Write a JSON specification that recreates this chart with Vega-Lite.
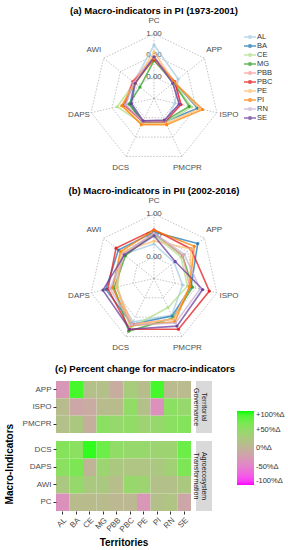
{
  "$schema": "https://vega.github.io/schema/vega-lite/v6.json",
  "padding": 5,
  "spacing": 11,
  "config": {
    "font": "Liberation Sans",
    "view": {"stroke": null},
    "title": {"fontSize": 9.5, "fontWeight": "bold", "color": "#000000", "offset": 2},
    "axis": {"labelFontSize": 8, "labelColor": "#4D4D4D", "tickColor": "#333333", "tickSize": 3, "domain": false, "grid": false, "titleFontSize": 10, "titleFontWeight": "bold", "titleColor": "#000000"}
  },
  "resolve": {"scale": {"color": "independent"}, "legend": {"color": "independent"}},
  "datasets": {
    "axes": [
      {"ind": "PC", "k": 0}, {"ind": "APP", "k": 1}, {"ind": "ISPO", "k": 2}, {"ind": "PMCPR", "k": 3},
      {"ind": "DCS", "k": 4}, {"ind": "DAPS", "k": 5}, {"ind": "AWI", "k": 6}
    ],
    "levels": [{"level": 0, "lab": "0.00"}, {"level": 0.5, "lab": "0.50"}, {"level": 1, "lab": "1.00"}],
    "rings": [
      {"ind": "PC", "level": 0}, {"ind": "APP", "level": 0}, {"ind": "ISPO", "level": 0}, {"ind": "PMCPR", "level": 0}, {"ind": "DCS", "level": 0}, {"ind": "DAPS", "level": 0}, {"ind": "AWI", "level": 0},
      {"ind": "PC", "level": 0.5}, {"ind": "APP", "level": 0.5}, {"ind": "ISPO", "level": 0.5}, {"ind": "PMCPR", "level": 0.5}, {"ind": "DCS", "level": 0.5}, {"ind": "DAPS", "level": 0.5}, {"ind": "AWI", "level": 0.5},
      {"ind": "PC", "level": 1}, {"ind": "APP", "level": 1}, {"ind": "ISPO", "level": 1}, {"ind": "PMCPR", "level": 1}, {"ind": "DCS", "level": 1}, {"ind": "DAPS", "level": 1}, {"ind": "AWI", "level": 1}
    ],
    "pi": [
      {"t": "AL", "ind": "PC", "v": 0.74}, {"t": "AL", "ind": "APP", "v": 0.22}, {"t": "AL", "ind": "ISPO", "v": 0.0}, {"t": "AL", "ind": "PMCPR", "v": 0.1}, {"t": "AL", "ind": "DCS", "v": 0.12}, {"t": "AL", "ind": "DAPS", "v": 0.18}, {"t": "AL", "ind": "AWI", "v": 0.1},
      {"t": "BA", "ind": "PC", "v": 0.45}, {"t": "BA", "ind": "APP", "v": 0.1}, {"t": "BA", "ind": "ISPO", "v": 0.54}, {"t": "BA", "ind": "PMCPR", "v": 0.1}, {"t": "BA", "ind": "DCS", "v": 0.12}, {"t": "BA", "ind": "DAPS", "v": 0.07}, {"t": "BA", "ind": "AWI", "v": 0.08},
      {"t": "CE", "ind": "PC", "v": 0.45}, {"t": "CE", "ind": "APP", "v": 0.08}, {"t": "CE", "ind": "ISPO", "v": 0.4}, {"t": "CE", "ind": "PMCPR", "v": 0.12}, {"t": "CE", "ind": "DCS", "v": 0.14}, {"t": "CE", "ind": "DAPS", "v": 0.38}, {"t": "CE", "ind": "AWI", "v": 0.08},
      {"t": "MG", "ind": "PC", "v": 0.38}, {"t": "MG", "ind": "APP", "v": 0.08}, {"t": "MG", "ind": "ISPO", "v": 0.34}, {"t": "MG", "ind": "PMCPR", "v": 0.08}, {"t": "MG", "ind": "DCS", "v": 0.1}, {"t": "MG", "ind": "DAPS", "v": 0.1}, {"t": "MG", "ind": "AWI", "v": -0.08},
      {"t": "PBB", "ind": "PC", "v": 0.47}, {"t": "PBB", "ind": "APP", "v": 0.12}, {"t": "PBB", "ind": "ISPO", "v": 0.15}, {"t": "PBB", "ind": "PMCPR", "v": 0.08}, {"t": "PBB", "ind": "DCS", "v": 0.1}, {"t": "PBB", "ind": "DAPS", "v": 0.22}, {"t": "PBB", "ind": "AWI", "v": 0.14},
      {"t": "PBC", "ind": "PC", "v": 0.4}, {"t": "PBC", "ind": "APP", "v": 0.12}, {"t": "PBC", "ind": "ISPO", "v": 0.14}, {"t": "PBC", "ind": "PMCPR", "v": 0.1}, {"t": "PBC", "ind": "DCS", "v": 0.1}, {"t": "PBC", "ind": "DAPS", "v": 0.2}, {"t": "PBC", "ind": "AWI", "v": 0.12},
      {"t": "PE", "ind": "PC", "v": 0.58}, {"t": "PE", "ind": "APP", "v": 0.1}, {"t": "PE", "ind": "ISPO", "v": 0.58}, {"t": "PE", "ind": "PMCPR", "v": 0.15}, {"t": "PE", "ind": "DCS", "v": 0.16}, {"t": "PE", "ind": "DAPS", "v": 0.28}, {"t": "PE", "ind": "AWI", "v": 0.08},
      {"t": "PI", "ind": "PC", "v": 0.42}, {"t": "PI", "ind": "APP", "v": 0.1}, {"t": "PI", "ind": "ISPO", "v": 0.66}, {"t": "PI", "ind": "PMCPR", "v": 0.18}, {"t": "PI", "ind": "DCS", "v": 0.18}, {"t": "PI", "ind": "DAPS", "v": 0.26}, {"t": "PI", "ind": "AWI", "v": 0.06},
      {"t": "RN", "ind": "PC", "v": 0.45}, {"t": "RN", "ind": "APP", "v": 0.06}, {"t": "RN", "ind": "ISPO", "v": 0.1}, {"t": "RN", "ind": "PMCPR", "v": 0.08}, {"t": "RN", "ind": "DCS", "v": 0.1}, {"t": "RN", "ind": "DAPS", "v": 0.18}, {"t": "RN", "ind": "AWI", "v": 0.1},
      {"t": "SE", "ind": "PC", "v": 0.46}, {"t": "SE", "ind": "APP", "v": 0.06}, {"t": "SE", "ind": "ISPO", "v": 0.1}, {"t": "SE", "ind": "PMCPR", "v": 0.06}, {"t": "SE", "ind": "DCS", "v": 0.08}, {"t": "SE", "ind": "DAPS", "v": 0.04}, {"t": "SE", "ind": "AWI", "v": 0.06}
    ],
    "pii": [
      {"t": "AL", "ind": "PC", "v": 0.3}, {"t": "AL", "ind": "APP", "v": 0.1}, {"t": "AL", "ind": "ISPO", "v": 0.18}, {"t": "AL", "ind": "PMCPR", "v": 0.45}, {"t": "AL", "ind": "DCS", "v": 0.62}, {"t": "AL", "ind": "DAPS", "v": 0.5}, {"t": "AL", "ind": "AWI", "v": 0.4},
      {"t": "BA", "ind": "PC", "v": 0.58}, {"t": "BA", "ind": "APP", "v": 0.8}, {"t": "BA", "ind": "ISPO", "v": 0.38}, {"t": "BA", "ind": "PMCPR", "v": 0.47}, {"t": "BA", "ind": "DCS", "v": 0.68}, {"t": "BA", "ind": "DAPS", "v": 0.65}, {"t": "BA", "ind": "AWI", "v": 0.56},
      {"t": "CE", "ind": "PC", "v": 0.5}, {"t": "CE", "ind": "APP", "v": 0.3}, {"t": "CE", "ind": "ISPO", "v": 0.3}, {"t": "CE", "ind": "PMCPR", "v": 0.25}, {"t": "CE", "ind": "DCS", "v": 0.78}, {"t": "CE", "ind": "DAPS", "v": 0.37}, {"t": "CE", "ind": "AWI", "v": 0.45},
      {"t": "MG", "ind": "PC", "v": 0.55}, {"t": "MG", "ind": "APP", "v": 0.35}, {"t": "MG", "ind": "ISPO", "v": 0.42}, {"t": "MG", "ind": "PMCPR", "v": 0.52}, {"t": "MG", "ind": "DCS", "v": 0.86}, {"t": "MG", "ind": "DAPS", "v": 0.45}, {"t": "MG", "ind": "AWI", "v": 0.35},
      {"t": "PBB", "ind": "PC", "v": 0.55}, {"t": "PBB", "ind": "APP", "v": 0.35}, {"t": "PBB", "ind": "ISPO", "v": 0.35}, {"t": "PBB", "ind": "PMCPR", "v": 0.55}, {"t": "PBB", "ind": "DCS", "v": 0.68}, {"t": "PBB", "ind": "DAPS", "v": 0.4}, {"t": "PBB", "ind": "AWI", "v": 0.42},
      {"t": "PBC", "ind": "PC", "v": 0.63}, {"t": "PBC", "ind": "APP", "v": 0.6}, {"t": "PBC", "ind": "ISPO", "v": 0.82}, {"t": "PBC", "ind": "PMCPR", "v": 0.81}, {"t": "PBC", "ind": "DCS", "v": 0.81}, {"t": "PBC", "ind": "DAPS", "v": 0.6}, {"t": "PBC", "ind": "AWI", "v": 0.63},
      {"t": "PE", "ind": "PC", "v": 0.37}, {"t": "PE", "ind": "APP", "v": 0.6}, {"t": "PE", "ind": "ISPO", "v": 0.35}, {"t": "PE", "ind": "PMCPR", "v": 0.55}, {"t": "PE", "ind": "DCS", "v": 0.7}, {"t": "PE", "ind": "DAPS", "v": 0.4}, {"t": "PE", "ind": "AWI", "v": 0.48},
      {"t": "PI", "ind": "PC", "v": 0.62}, {"t": "PI", "ind": "APP", "v": 0.7}, {"t": "PI", "ind": "ISPO", "v": 0.35}, {"t": "PI", "ind": "PMCPR", "v": 0.62}, {"t": "PI", "ind": "DCS", "v": 0.72}, {"t": "PI", "ind": "DAPS", "v": 0.49}, {"t": "PI", "ind": "AWI", "v": 0.5},
      {"t": "RN", "ind": "PC", "v": 0.55}, {"t": "RN", "ind": "APP", "v": 0.4}, {"t": "RN", "ind": "ISPO", "v": 0.6}, {"t": "RN", "ind": "PMCPR", "v": 0.65}, {"t": "RN", "ind": "DCS", "v": 0.7}, {"t": "RN", "ind": "DAPS", "v": 0.55}, {"t": "RN", "ind": "AWI", "v": 0.4},
      {"t": "SE", "ind": "PC", "v": 0.49}, {"t": "SE", "ind": "APP", "v": 0.13}, {"t": "SE", "ind": "ISPO", "v": 0.66}, {"t": "SE", "ind": "PMCPR", "v": 0.73}, {"t": "SE", "ind": "DCS", "v": 0.81}, {"t": "SE", "ind": "DAPS", "v": 0.72}, {"t": "SE", "ind": "AWI", "v": 0.38}
    ],
    "chg": [
      {"t": "AL", "ind": "APP", "p": -30}, {"t": "BA", "ind": "APP", "p": 90}, {"t": "CE", "ind": "APP", "p": 15}, {"t": "MG", "ind": "APP", "p": 15}, {"t": "PBB", "ind": "APP", "p": -8}, {"t": "PBC", "ind": "APP", "p": 30}, {"t": "PE", "ind": "APP", "p": 12}, {"t": "PI", "ind": "APP", "p": 90}, {"t": "RN", "ind": "APP", "p": 8}, {"t": "SE", "ind": "APP", "p": 8},
      {"t": "AL", "ind": "ISPO", "p": 10}, {"t": "BA", "ind": "ISPO", "p": -15}, {"t": "CE", "ind": "ISPO", "p": -10}, {"t": "MG", "ind": "ISPO", "p": 10}, {"t": "PBB", "ind": "ISPO", "p": 10}, {"t": "PBC", "ind": "ISPO", "p": 50}, {"t": "PE", "ind": "ISPO", "p": 15}, {"t": "PI", "ind": "ISPO", "p": -35}, {"t": "RN", "ind": "ISPO", "p": 55}, {"t": "SE", "ind": "ISPO", "p": 45},
      {"t": "AL", "ind": "PMCPR", "p": 15}, {"t": "BA", "ind": "PMCPR", "p": 25}, {"t": "CE", "ind": "PMCPR", "p": -5}, {"t": "MG", "ind": "PMCPR", "p": 55}, {"t": "PBB", "ind": "PMCPR", "p": 45}, {"t": "PBC", "ind": "PMCPR", "p": 50}, {"t": "PE", "ind": "PMCPR", "p": 40}, {"t": "PI", "ind": "PMCPR", "p": 45}, {"t": "RN", "ind": "PMCPR", "p": 55}, {"t": "SE", "ind": "PMCPR", "p": 60},
      {"t": "AL", "ind": "DCS", "p": 60}, {"t": "BA", "ind": "DCS", "p": 55}, {"t": "CE", "ind": "DCS", "p": 95}, {"t": "MG", "ind": "DCS", "p": 75}, {"t": "PBB", "ind": "DCS", "p": 50}, {"t": "PBC", "ind": "DCS", "p": 45}, {"t": "PE", "ind": "DCS", "p": 45}, {"t": "PI", "ind": "DCS", "p": 40}, {"t": "RN", "ind": "DCS", "p": 40}, {"t": "SE", "ind": "DCS", "p": 75},
      {"t": "AL", "ind": "DAPS", "p": 55}, {"t": "BA", "ind": "DAPS", "p": 65}, {"t": "CE", "ind": "DAPS", "p": 0}, {"t": "MG", "ind": "DAPS", "p": 40}, {"t": "PBB", "ind": "DAPS", "p": 25}, {"t": "PBC", "ind": "DAPS", "p": 20}, {"t": "PE", "ind": "DAPS", "p": 20}, {"t": "PI", "ind": "DAPS", "p": 25}, {"t": "RN", "ind": "DAPS", "p": 35}, {"t": "SE", "ind": "DAPS", "p": 65},
      {"t": "AL", "ind": "AWI", "p": 25}, {"t": "BA", "ind": "AWI", "p": 45}, {"t": "CE", "ind": "AWI", "p": 25}, {"t": "MG", "ind": "AWI", "p": 25}, {"t": "PBB", "ind": "AWI", "p": 12}, {"t": "PBC", "ind": "AWI", "p": 45}, {"t": "PE", "ind": "AWI", "p": 40}, {"t": "PI", "ind": "AWI", "p": 15}, {"t": "RN", "ind": "AWI", "p": 15}, {"t": "SE", "ind": "AWI", "p": 25},
      {"t": "AL", "ind": "PC", "p": -35}, {"t": "BA", "ind": "PC", "p": 10}, {"t": "CE", "ind": "PC", "p": 10}, {"t": "MG", "ind": "PC", "p": 10}, {"t": "PBB", "ind": "PC", "p": 5}, {"t": "PBC", "ind": "PC", "p": 5}, {"t": "PE", "ind": "PC", "p": -30}, {"t": "PI", "ind": "PC", "p": 15}, {"t": "RN", "ind": "PC", "p": 20}, {"t": "SE", "ind": "PC", "p": -15}
    ]
  },
  "vconcat": [
    {
      "width": 184, "height": 156,
      "title": {"text": "(a) Macro-indicators in PI (1973-2001)", "frame": "group", "anchor": "middle", "dx": 6},
      "layer": [
        {
          "data": {"name": "rings"},
          "transform": [
            {"lookup": "ind", "from": {"data": {"name": "axes"}, "key": "ind", "fields": ["k"]}},
            {"calculate": "datum.k*2*PI/7", "as": "a"},
            {"calculate": "(datum.level+0.5)*sin(datum.a)", "as": "x"},
            {"calculate": "(datum.level+0.5)*cos(datum.a)", "as": "y"}
          ],
          "mark": {"type": "line", "interpolate": "linear-closed", "stroke": "#AAAAAA", "strokeWidth": 0.7, "strokeDash": [1.5, 1.5]},
          "encoding": {
            "x": {"field": "x", "type": "quantitative", "scale": {"domain": [-2.28, 2.0], "nice": false, "zero": false}, "axis": null},
            "y": {"field": "y", "type": "quantitative", "scale": {"domain": [-1.76, 1.87], "nice": false, "zero": false}, "axis": null},
            "detail": {"field": "level", "type": "nominal"},
            "order": {"field": "k", "type": "quantitative"}
          }
        },
        {
          "data": {"name": "axes"},
          "transform": [
            {"calculate": "datum.k*2*PI/7", "as": "a"},
            {"calculate": "1.5*sin(datum.a)", "as": "x"},
            {"calculate": "1.5*cos(datum.a)", "as": "y"}
          ],
          "mark": {"type": "rule", "stroke": "#AAAAAA", "strokeWidth": 0.7, "strokeDash": [1.5, 1.5]},
          "encoding": {
            "x": {"field": "x", "type": "quantitative"},
            "y": {"field": "y", "type": "quantitative"},
            "x2": {"datum": 0},
            "y2": {"datum": 0}
          }
        },
        {
          "data": {"name": "levels"},
          "transform": [{"calculate": "datum.level+0.5", "as": "y"}],
          "mark": {"type": "text", "fontSize": 8, "color": "#4D4D4D", "baseline": "middle"},
          "encoding": {
            "x": {"datum": 0, "type": "quantitative"},
            "y": {"field": "y", "type": "quantitative"},
            "text": {"field": "lab"}
          }
        },
        {
          "data": {"name": "axes"},
          "transform": [
            {"calculate": "datum.k*2*PI/7", "as": "a"},
            {"calculate": "1.79*sin(datum.a)", "as": "x"},
            {"calculate": "1.79*cos(datum.a)", "as": "y"}
          ],
          "mark": {"type": "text", "fontSize": 8, "color": "#4D4D4D", "baseline": "middle"},
          "encoding": {
            "x": {"field": "x", "type": "quantitative"},
            "y": {"field": "y", "type": "quantitative"},
            "text": {"field": "ind"}
          }
        },
        {
          "data": {"name": "pi"},
          "transform": [
            {"lookup": "ind", "from": {"data": {"name": "axes"}, "key": "ind", "fields": ["k"]}},
            {"calculate": "datum.k*2*PI/7", "as": "a"},
            {"calculate": "(datum.v+0.5)*sin(datum.a)", "as": "x"},
            {"calculate": "(datum.v+0.5)*cos(datum.a)", "as": "y"}
          ],
          "layer": [
            {
              "mark": {"type": "line", "interpolate": "linear-closed", "strokeWidth": 1.6, "opacity": 0.75},
              "encoding": {
                "x": {"field": "x", "type": "quantitative"},
                "y": {"field": "y", "type": "quantitative"},
                "color": {"field": "t", "type": "nominal", "scale": {"range": ["#A6CEE3", "#1F78B4", "#B2DF8A", "#33A02C", "#FB9A99", "#E31A1C", "#FDBF6F", "#FF7F00", "#CAB2D6", "#6A3D9A"]},
                  "legend": {"title": null, "orient": "right", "offset": -9, "padding": 15, "labelFontSize": 7.5, "labelColor": "#333333", "symbolType": "M-2,0L2,0M-0.45,0A0.45,0.45,0,1,1,0.45,0A0.45,0.45,0,1,1,-0.45,0Z", "symbolSize": 36, "rowPadding": -1, "labelOffset": 3,
                    "encode": {"symbols": {"update": {"fill": {"scale": "color", "field": "value"}, "stroke": {"scale": "color", "field": "value"}, "strokeWidth": {"value": 1.5}, "opacity": {"value": 0.85}}}, "labels": {"update": {"lineHeight": {"value": 7}}}}}},
                "order": {"field": "k", "type": "quantitative"}
              }
            },
            {
              "mark": {"type": "point", "filled": true, "size": 10, "opacity": 0.9},
              "encoding": {
                "x": {"field": "x", "type": "quantitative"},
                "y": {"field": "y", "type": "quantitative"},
                "color": {"field": "t", "type": "nominal"}
              }
            }
          ]
        }
      ]
    },
    {
      "width": 184, "height": 154,
      "title": {"text": "(b) Macro-indicators in PII (2002-2016)", "frame": "group", "anchor": "middle", "dx": 6},
      "layer": [
        {
          "data": {"name": "rings"},
          "transform": [
            {"lookup": "ind", "from": {"data": {"name": "axes"}, "key": "ind", "fields": ["k"]}},
            {"calculate": "datum.k*2*PI/7", "as": "a"},
            {"calculate": "(datum.level+0.5)*sin(datum.a)", "as": "x"},
            {"calculate": "(datum.level+0.5)*cos(datum.a)", "as": "y"}
          ],
          "mark": {"type": "line", "interpolate": "linear-closed", "stroke": "#AAAAAA", "strokeWidth": 0.7, "strokeDash": [1.5, 1.5]},
          "encoding": {
            "x": {"field": "x", "type": "quantitative", "scale": {"domain": [-2.28, 2.0], "nice": false, "zero": false}, "axis": null},
            "y": {"field": "y", "type": "quantitative", "scale": {"domain": [-1.71, 1.87], "nice": false, "zero": false}, "axis": null},
            "detail": {"field": "level", "type": "nominal"},
            "order": {"field": "k", "type": "quantitative"}
          }
        },
        {
          "data": {"name": "axes"},
          "transform": [
            {"calculate": "datum.k*2*PI/7", "as": "a"},
            {"calculate": "1.5*sin(datum.a)", "as": "x"},
            {"calculate": "1.5*cos(datum.a)", "as": "y"}
          ],
          "mark": {"type": "rule", "stroke": "#AAAAAA", "strokeWidth": 0.7, "strokeDash": [1.5, 1.5]},
          "encoding": {
            "x": {"field": "x", "type": "quantitative"},
            "y": {"field": "y", "type": "quantitative"},
            "x2": {"datum": 0},
            "y2": {"datum": 0}
          }
        },
        {
          "data": {"name": "levels"},
          "transform": [{"calculate": "datum.level+0.5", "as": "y"}],
          "mark": {"type": "text", "fontSize": 8, "color": "#4D4D4D", "baseline": "middle"},
          "encoding": {
            "x": {"datum": 0, "type": "quantitative"},
            "y": {"field": "y", "type": "quantitative"},
            "text": {"field": "lab"}
          }
        },
        {
          "data": {"name": "axes"},
          "transform": [
            {"calculate": "datum.k*2*PI/7", "as": "a"},
            {"calculate": "1.79*sin(datum.a)", "as": "x"},
            {"calculate": "1.79*cos(datum.a)", "as": "y"}
          ],
          "mark": {"type": "text", "fontSize": 8, "color": "#4D4D4D", "baseline": "middle"},
          "encoding": {
            "x": {"field": "x", "type": "quantitative"},
            "y": {"field": "y", "type": "quantitative"},
            "text": {"field": "ind"}
          }
        },
        {
          "data": {"name": "pii"},
          "transform": [
            {"lookup": "ind", "from": {"data": {"name": "axes"}, "key": "ind", "fields": ["k"]}},
            {"calculate": "datum.k*2*PI/7", "as": "a"},
            {"calculate": "(datum.v+0.5)*sin(datum.a)", "as": "x"},
            {"calculate": "(datum.v+0.5)*cos(datum.a)", "as": "y"}
          ],
          "layer": [
            {
              "mark": {"type": "line", "interpolate": "linear-closed", "strokeWidth": 1.6, "opacity": 0.75},
              "encoding": {
                "x": {"field": "x", "type": "quantitative"},
                "y": {"field": "y", "type": "quantitative"},
                "color": {"field": "t", "type": "nominal", "scale": {"range": ["#A6CEE3", "#1F78B4", "#B2DF8A", "#33A02C", "#FB9A99", "#E31A1C", "#FDBF6F", "#FF7F00", "#CAB2D6", "#6A3D9A"]}, "legend": null},
                "order": {"field": "k", "type": "quantitative"}
              }
            },
            {
              "mark": {"type": "point", "filled": true, "size": 10, "opacity": 0.9},
              "encoding": {
                "x": {"field": "x", "type": "quantitative"},
                "y": {"field": "y", "type": "quantitative"},
                "color": {"field": "t", "type": "nominal", "legend": null}
              }
            }
          ]
        }
      ]
    },
    {
      "title": {"text": "(c) Percent change for macro-indicators", "anchor": "middle", "dx": -15, "offset": 8},
      "vconcat": [
        {
          "title": {"text": "Macro-Indicators", "orient": "left", "anchor": "middle", "fontSize": 10, "offset": 7},
          "spacing": 8,
          "vconcat": [
            {
              "spacing": 2,
              "hconcat": [
                {
                  "width": 135, "height": 52,
                  "data": {"name": "chg"},
                  "transform": [{"filter": {"field": "ind", "oneOf": ["APP", "ISPO", "PMCPR"]}}],
                  "mark": {"type": "rect"},
                  "encoding": {
                    "x": {"field": "t", "type": "nominal", "axis": null},
                    "y": {"field": "ind", "type": "nominal", "sort": ["APP", "ISPO", "PMCPR"], "axis": {"title": null}},
                    "color": {"field": "p", "type": "quantitative",
                      "scale": {"domain": [-100, 0, 100], "range": ["#FF00FF", "#C0B496", "#00FF00"], "interpolate": "lab"},
                      "legend": {"title": null, "values": [-100, -50, 0, 50, 100], "labelExpr": "datum.value > 0 ? '+' + datum.value + '%Δ' : datum.value + '%Δ'", "gradientLength": 74, "gradientThickness": 17, "labelFontSize": 7.5, "labelColor": "#333333", "offset": -5, "padding": 30}}
                  }
                },
                {
                  "width": 16, "height": 52,
                  "view": {"fill": "#D9D9D9", "stroke": null},
                  "data": {"values": [{"g": "Territorial\nGovernance"}]},
                  "mark": {"type": "text", "angle": 90, "fontSize": 7, "color": "#1A1A1A", "lineBreak": "\n", "baseline": "middle", "lineHeight": 8},
                  "encoding": {"text": {"field": "g"}}
                }
              ]
            },
            {
              "spacing": 2,
              "hconcat": [
                {
                  "width": 135, "height": 70,
                  "data": {"name": "chg"},
                  "transform": [{"filter": {"field": "ind", "oneOf": ["DCS", "DAPS", "AWI", "PC"]}}],
                  "mark": {"type": "rect"},
                  "encoding": {
                    "x": {"field": "t", "type": "nominal", "axis": {"title": "Territories", "labelAngle": -45}},
                    "y": {"field": "ind", "type": "nominal", "sort": ["DCS", "DAPS", "AWI", "PC"], "axis": {"title": null}},
                    "color": {"field": "p", "type": "quantitative"}
                  }
                },
                {
                  "width": 16, "height": 70,
                  "view": {"fill": "#D9D9D9", "stroke": null},
                  "data": {"values": [{"g": "Agroecosystem\nTransformation"}]},
                  "mark": {"type": "text", "angle": 90, "fontSize": 7, "color": "#1A1A1A", "lineBreak": "\n", "baseline": "middle", "lineHeight": 8},
                  "encoding": {"text": {"field": "g"}}
                }
              ]
            }
          ]
        }
      ]
    }
  ]
}
